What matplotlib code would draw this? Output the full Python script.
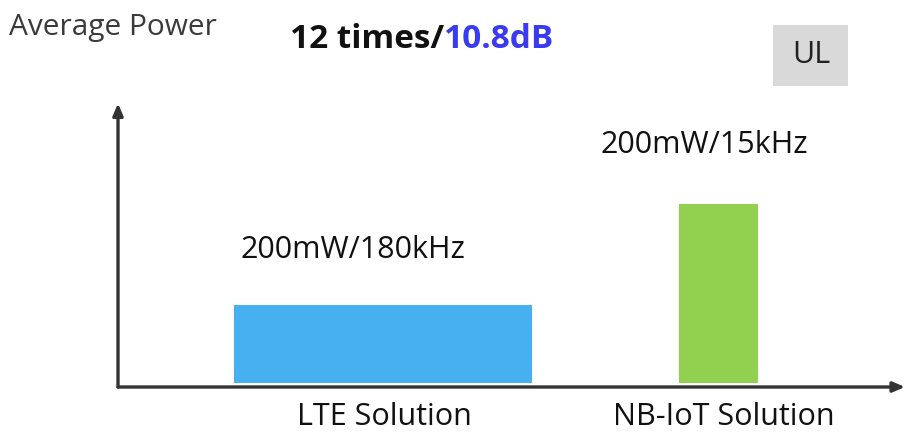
import matplotlib
matplotlib.use("Agg")
import matplotlib.pyplot as plt
from matplotlib.patches import Rectangle

# data
categories = ["LTE Solution", "NB-IoT Solution"]
bar_labels = ["200mW/180kHz", "200mW/15kHz"]
relative_height = [1.0, 2.29]   # visual bar heights (relative)
bar_centers = [3.37, 7.63]
bar_widths = [3.79, 1.0]
bar_colors = ["#47b0f0", "#92d050"]

W, H = 910, 434
fig = plt.figure(figsize=(W / 100, H / 100), dpi=100)
fig.patch.set_facecolor("white")

def fx(px):
    return px / W

def fy(py):
    return 1 - py / H

ax = fig.add_axes([fx(118), fy(387), fx(905) - fx(118), fy(105) - fy(387)])
ax.set_xlim(0, 10)
ax.set_ylim(0, 3.6)
ax.axis("off")

base = 0.05
ax.bar(bar_centers, relative_height, width=bar_widths, bottom=base,
       color=bar_colors, edgecolor="none")

# axes arrows
ax.annotate("", xy=(10.0, 0), xytext=(0, 0), xycoords="data",
            arrowprops=dict(arrowstyle="-|>,head_length=0.7,head_width=0.3",
                            color="#333333", lw=2.4, shrinkA=0, shrinkB=0))
ax.annotate("", xy=(0, 3.62), xytext=(0, 0), xycoords="data",
            arrowprops=dict(arrowstyle="-|>,head_length=0.7,head_width=0.3",
                            color="#333333", lw=2.4, shrinkA=0, shrinkB=0),
            annotation_clip=False)

font = "Open Sans"
fig.text(fx(9), fy(28), "Average Power", fontsize=21.5, color="#3a3a3a",
         family=font, va="center", ha="left")
t1 = fig.text(fx(290), fy(40), "12 times/", fontsize=24, color="#111111",
              family=font, fontweight="bold", va="center", ha="left")
fig.canvas.draw()
bb = t1.get_window_extent()
fig.text(bb.x1 / W, fy(40), "10.8dB", fontsize=24, color="#3a3af0",
         family=font, fontweight="bold", va="center", ha="left")

fig.patches.append(Rectangle((fx(773), fy(86)), fx(848) - fx(773), fy(25) - fy(86),
                             transform=fig.transFigure, facecolor="#d9d9d9",
                             edgecolor="none"))
fig.text(fx(811), fy(55), "UL", fontsize=22, color="#222222", family=font,
         va="center", ha="center")

fig.text(fx(240), fy(250), bar_labels[0], fontsize=22, color="#111111",
         family=font, va="center", ha="left")
fig.text(fx(600), fy(145), bar_labels[1], fontsize=22, color="#111111",
         family=font, va="center", ha="left")

fig.text(fx(297), fy(417), categories[0], fontsize=22, color="#111111",
         family=font, va="center", ha="left")
fig.text(fx(613), fy(417), categories[1], fontsize=22, color="#111111",
         family=font, va="center", ha="left")

fig.savefig("out.png", dpi=100, facecolor="white")
